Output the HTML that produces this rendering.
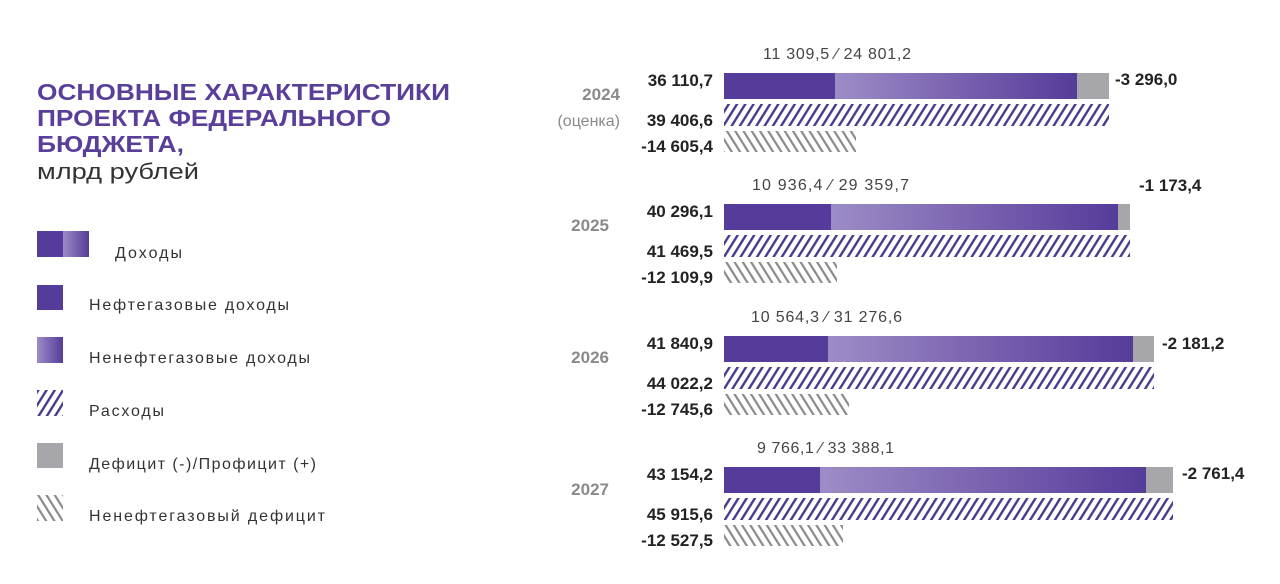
<!DOCTYPE html>
<html><head><meta charset="utf-8"><style>
html,body{margin:0;padding:0;background:#fff;}
svg{display:block;}
text{font-family:"Liberation Sans","DejaVu Sans",sans-serif;}
</style></head><body>
<svg width="1280" height="584" viewBox="0 0 1280 584" xmlns="http://www.w3.org/2000/svg">
<defs>
<linearGradient id="g" x1="0" x2="1" y1="0" y2="0">
<stop offset="0" stop-color="#9c8cc6"/><stop offset="0.5" stop-color="#7a63b0"/><stop offset="1" stop-color="#553c9a"/>
</linearGradient>
<pattern id="hp" patternUnits="userSpaceOnUse" width="7" height="8" patternTransform="rotate(32)">
<rect width="7" height="8" fill="#fff"/><rect x="0" y="0" width="2.4" height="8" fill="#4a3a8c"/>
</pattern>
<pattern id="hg" patternUnits="userSpaceOnUse" width="7" height="8" patternTransform="rotate(-32)">
<rect width="7" height="8" fill="#fff"/><rect x="0" y="0" width="2.2" height="8" fill="#8a8a8e"/>
</pattern>
</defs>
<rect width="1280" height="584" fill="#fff"/>
<g font-weight="bold" fill="#5a3f9a" font-size="23">
<text x="37" y="100" textLength="413" lengthAdjust="spacingAndGlyphs">ОСНОВНЫЕ ХАРАКТЕРИСТИКИ</text>
<text x="37" y="126" textLength="354" lengthAdjust="spacingAndGlyphs">ПРОЕКТА ФЕДЕРАЛЬНОГО</text>
<text x="37" y="152" textLength="147" lengthAdjust="spacingAndGlyphs">БЮДЖЕТА,</text>
</g>
<text x="37" y="179" font-size="22" fill="#333" textLength="162" lengthAdjust="spacingAndGlyphs">млрд рублей</text>
<rect x="37" y="231" width="26" height="26" fill="#553c9a"/>
<rect x="63" y="231" width="26" height="26" fill="url(#g)"/>
<rect x="37" y="285" width="26" height="25" fill="#553c9a"/>
<rect x="37" y="337" width="26" height="26" fill="url(#g)"/>
<rect x="37" y="390" width="26" height="26" fill="url(#hp)"/>
<rect x="37" y="443" width="26" height="25" fill="#a7a7ab"/>
<rect x="37" y="495" width="26" height="26" fill="url(#hg)"/>
<g font-size="16" fill="#333" lengthAdjust="spacingAndGlyphs">
<text x="115" y="258" textLength="67">Доходы</text>
<text x="89" y="310" textLength="200">Нефтегазовые доходы</text>
<text x="89" y="363" textLength="221">Ненефтегазовые доходы</text>
<text x="89" y="416" textLength="75">Расходы</text>
<text x="89" y="469" textLength="227">Дефицит (-)/Профицит (+)</text>
<text x="89" y="521" textLength="236">Ненефтегазовый дефицит</text>
</g>
<g>
<rect x="724" y="73" width="111" height="26" fill="#553c9a"/>
<rect x="835" y="73" width="242" height="26" fill="url(#g)"/>
<rect x="1077" y="73" width="32" height="26" fill="#a7a7ab"/>
<rect x="724" y="104" width="385" height="22" fill="url(#hp)"/>
<rect x="724" y="131" width="132" height="21" fill="url(#hg)"/>

<rect x="724" y="204" width="107" height="26" fill="#553c9a"/>
<rect x="831" y="204" width="287" height="26" fill="url(#g)"/>
<rect x="1118" y="204" width="12" height="26" fill="#a7a7ab"/>
<rect x="724" y="235" width="406" height="22" fill="url(#hp)"/>
<rect x="724" y="262" width="113" height="21" fill="url(#hg)"/>

<rect x="724" y="336" width="104" height="26" fill="#553c9a"/>
<rect x="828" y="336" width="305" height="26" fill="url(#g)"/>
<rect x="1133" y="336" width="21" height="26" fill="#a7a7ab"/>
<rect x="724" y="367" width="430" height="22" fill="url(#hp)"/>
<rect x="724" y="394" width="125" height="21" fill="url(#hg)"/>

<rect x="724" y="467" width="96" height="26" fill="#553c9a"/>
<rect x="820" y="467" width="326" height="26" fill="url(#g)"/>
<rect x="1146" y="467" width="27" height="26" fill="#a7a7ab"/>
<rect x="724" y="498" width="449" height="22" fill="url(#hp)"/>
<rect x="724" y="525" width="119" height="21" fill="url(#hg)"/>
</g>
<g font-size="17" font-weight="bold" fill="#222" text-anchor="end">
<text x="713" y="86">36 110,7</text>
<text x="713" y="126">39 406,6</text>
<text x="713" y="152">-14 605,4</text>
<text x="713" y="217">40 296,1</text>
<text x="713" y="257">41 469,5</text>
<text x="713" y="283">-12 109,9</text>
<text x="713" y="349">41 840,9</text>
<text x="713" y="389">44 022,2</text>
<text x="713" y="415">-12 745,6</text>
<text x="713" y="480">43 154,2</text>
<text x="713" y="520">45 915,6</text>
<text x="713" y="546">-12 527,5</text>
</g>
<g font-size="17" font-weight="bold" fill="#222">
<text x="1115" y="85">-3 296,0</text>
<text x="1139" y="191">-1 173,4</text>
<text x="1162" y="349">-2 181,2</text>
<text x="1182" y="479">-2 761,4</text>
</g>
<g font-size="16" fill="#444" lengthAdjust="spacingAndGlyphs">
<text x="763" y="59" textLength="148">11 309,5 ⁄ 24 801,2</text>
<text x="752" y="190" textLength="157">10 936,4 ⁄ 29 359,7</text>
<text x="751" y="322" textLength="151">10 564,3 ⁄ 31 276,6</text>
<text x="757" y="453" textLength="137">9 766,1 ⁄ 33 388,1</text>
</g>
<g font-size="17" font-weight="bold" fill="#8a8a8a" text-anchor="end">
<text x="620" y="100">2024</text>
<text x="609" y="231">2025</text>
<text x="609" y="363">2026</text>
<text x="609" y="495">2027</text>
</g>
<text x="620" y="126" font-size="16" fill="#8a8a8a" text-anchor="end">(оценка)</text>
</svg>
</body></html>
